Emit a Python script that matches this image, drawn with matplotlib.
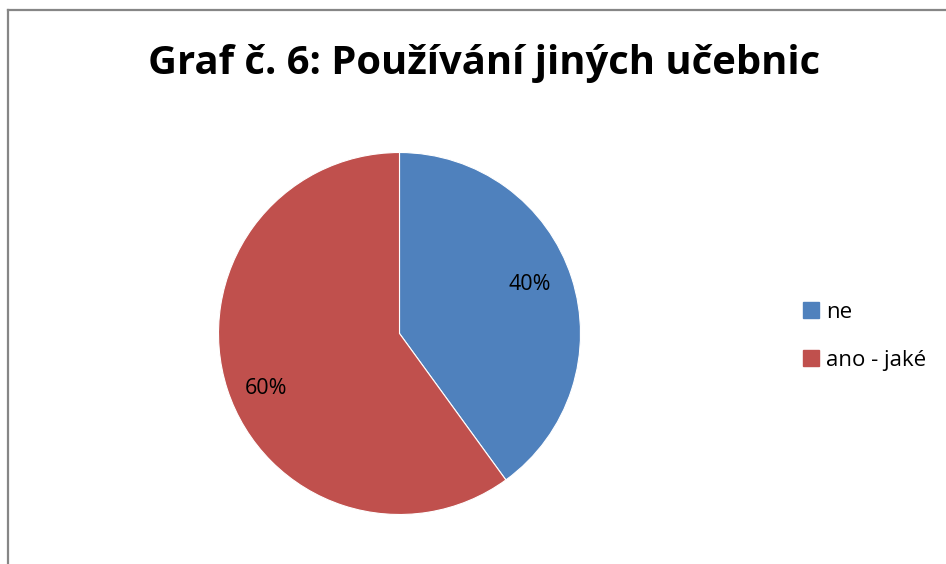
import matplotlib.pyplot as plt
from matplotlib.lines import Line2D
from matplotlib.patches import Patch

# data
labels = ['ne', 'ano - jaké']
values = [40, 60]
colors = ['#4F81BD', '#C0504D']
title = 'Graf č. 6: Používání jiných učebnic'

W, H = 946, 564
fig = plt.figure(figsize=(W / 100, H / 100), dpi=100)
fig.patch.set_facecolor('white')

# chart frame (left and top edges visible)
fig.add_artist(Line2D([8 / W, 8 / W], [0, 1 - 10 / H], color='#868686', lw=1.6))
fig.add_artist(Line2D([8 / W, 1], [1 - 10 / H, 1 - 10 / H], color='#868686', lw=1.6))

# axes in pixel coordinates (y up)
ax = fig.add_axes([0, 0, 1, 1])
ax.axis('off')

wedges, texts, autotexts = ax.pie(
    values, colors=colors, startangle=90, counterclock=False,
    center=(399.5, H - 333.5), radius=181, autopct='%d%%', pctdistance=0.78,
    wedgeprops=dict(edgecolor='white', linewidth=0.8),
    textprops=dict(fontsize=15.5, family='Open Sans', color='black'))
# label placement as in the original (Excel-style)
autotexts[0].set_position((530, H - 285))
autotexts[1].set_position((266, H - 388))
ax.set_xlim(0, W)
ax.set_ylim(0, H)
ax.set_aspect('equal')

fig.text(484 / W, 1 - 64 / H, title, ha='center', va='center',
         fontsize=28.8, fontweight='bold', family='Open Sans')

handles = [Patch(facecolor=c, edgecolor=c) for c in colors]
fig.legend(handles, labels, loc='upper left', bbox_to_anchor=(783 / W, 1 - 282 / H),
           frameon=False, handlelength=0.7, handleheight=0.7,
           handletextpad=0.35, labelspacing=1.2,
           prop=dict(family='Open Sans', size=16))

fig.savefig('out.png', dpi=100)
